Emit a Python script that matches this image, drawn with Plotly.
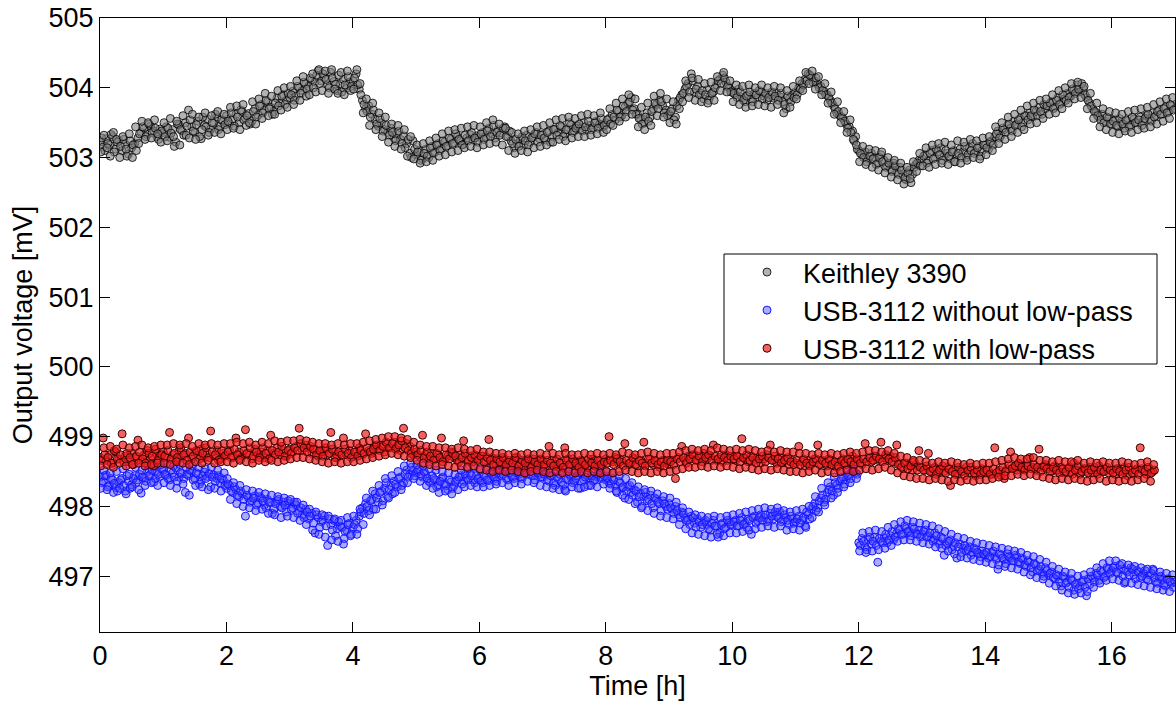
import numpy as np
import plotly.graph_objects as go

DT = 0.05  # sampling interval [h]; "_b" lists are offset by DT/2, "_c" lists by DT/4

keithley = [
    503.22, 503.15, 503.27, 503.18, 503.30, 503.12, 503.24, 503.10, 503.19, 503.05, 503.14, 503.20, 503.28, 503.36, 503.42, 503.33, 503.45, 503.38, 503.30, 503.41,
    503.36, 503.44, 503.29, 503.40, 503.22, 503.47, 503.38, 503.50, 503.68, 503.44, 503.36, 503.52, 503.27, 503.46, 503.55, 503.41, 503.49, 503.58, 503.45, 503.52,
    503.60, 503.48, 503.55, 503.62, 503.50, 503.66, 503.57, 503.63, 503.52, 503.70, 503.61, 503.76, 503.68, 503.80, 503.72, 503.66, 503.85, 503.78, 503.90, 503.82,
    503.86, 503.95, 503.88, 504.00, 503.96, 504.05, 504.02, 504.12, 504.08, 504.24, 504.10, 504.15, 504.04, 504.22, 504.09, 503.96, 504.06, 504.12, 503.99, 504.08,
    504.10, 504.20, 503.98, 503.82, 503.70, 503.74, 503.62, 503.55, 503.45, 503.50, 503.40, 503.36, 503.42, 503.28, 503.33, 503.26, 503.31, 503.20, 503.06, 503.24,
    503.04, 503.10, 502.98, 503.12, 503.00, 503.16, 503.08, 503.20, 503.13, 503.22, 503.17, 503.26, 503.21, 503.30, 503.24, 503.19, 503.28, 503.33, 503.25, 503.31,
    503.29, 503.36, 503.30, 503.42, 503.34, 503.28, 503.40, 503.35, 503.44, 503.30, 503.24, 503.14, 503.20, 503.26, 503.18, 503.32, 503.22, 503.29, 503.36, 503.27,
    503.33, 503.25, 503.38, 503.30, 503.41, 503.36, 503.44, 503.34, 503.40, 503.47, 503.38, 503.45, 503.42, 503.50, 503.39, 503.46, 503.43, 503.52, 503.48, 503.44,
    503.50, 503.56, 503.62, 503.54, 503.66, 503.60, 503.72, 503.78, 503.86, 503.70, 503.62, 503.55, 503.50, 503.64, 503.58, 503.70, 503.76, 503.82, 503.74, 503.68,
    503.62, 503.70, 503.58, 503.82, 503.90, 503.98, 504.06, 504.20, 503.94, 504.02, 503.92, 503.84, 503.97, 503.88, 503.94, 504.04, 504.12, 504.18, 504.08, 504.00,
    503.96, 503.90, 503.98, 503.86, 503.80, 503.90, 503.84, 503.92, 503.86, 503.94, 503.88, 503.82, 503.90, 503.85, 503.93, 503.87, 503.80, 503.70, 503.84, 503.90,
    503.94, 504.00, 504.06, 504.12, 504.20, 504.16, 504.10, 504.05, 504.02, 503.95, 503.90, 503.82, 503.74, 503.64, 503.60, 503.56, 503.48, 503.44, 503.38, 503.30,
    503.10, 503.04, 503.08, 502.98, 503.06, 503.00, 502.92, 503.04, 502.96, 502.88, 502.84, 502.92, 502.80, 502.86, 502.74, 502.68, 502.82, 502.76, 502.90, 502.96,
    502.98, 503.04, 502.95, 503.10, 503.00, 503.08, 503.14, 503.02, 503.06, 502.98, 503.10, 503.04, 503.12, 503.08, 503.00, 503.14, 503.20, 503.08, 503.16, 503.10,
    503.18, 503.12, 503.24, 503.30, 503.38, 503.32, 503.40, 503.46, 503.42, 503.52, 503.48, 503.56, 503.50, 503.60, 503.64, 503.58, 503.66, 503.72, 503.62, 503.70,
    503.74, 503.80, 503.72, 503.86, 503.78, 503.84, 503.92, 503.88, 503.96, 504.04, 503.94, 503.99, 503.86, 503.78, 503.70, 503.64, 503.58, 503.62, 503.52, 503.56,
    503.48, 503.54, 503.45, 503.50, 503.42, 503.52, 503.47, 503.55, 503.50, 503.58, 503.52, 503.60, 503.56, 503.64, 503.60, 503.68, 503.62, 503.72, 503.66, 503.74,
    503.70,
]
keithley_b = [
    503.28, 503.10, 503.20, 503.33, 503.08, 503.22, 503.16, 503.26, 503.02, 503.24, 503.18, 503.10, 503.34, 503.44, 503.30, 503.48, 503.36, 503.42, 503.26, 503.38,
    503.30, 503.42, 503.35, 503.16, 503.48, 503.40, 503.32, 503.45, 503.54, 503.38, 503.47, 503.30, 503.58, 503.44, 503.36, 503.50, 503.62, 503.40, 503.54, 503.47,
    503.52, 503.64, 503.45, 503.58, 503.68, 503.54, 503.60, 503.48, 503.66, 503.58, 503.74, 503.64, 503.82, 503.70, 503.62, 503.78, 503.74, 503.88, 503.76, 503.92,
    503.90, 503.82, 504.02, 503.92, 504.08, 503.98, 504.14, 504.00, 504.18, 504.06, 504.20, 504.12, 504.00, 504.14, 504.05, 504.18, 503.94, 504.04, 504.16, 504.02,
    504.14, 504.04, 503.90, 503.76, 503.66, 503.58, 503.68, 503.48, 503.56, 503.38, 503.46, 503.32, 503.36, 503.24, 503.38, 503.20, 503.14, 503.26, 503.00, 503.12,
    503.08, 502.96, 503.06, 503.02, 503.14, 503.06, 503.18, 503.10, 503.24, 503.16, 503.28, 503.20, 503.34, 503.26, 503.18, 503.32, 503.24, 503.36, 503.28, 503.22,
    503.34, 503.26, 503.38, 503.30, 503.46, 503.36, 503.32, 503.42, 503.30, 503.38, 503.20, 503.26, 503.16, 503.30, 503.24, 503.18, 503.28, 503.34, 503.22, 503.32,
    503.28, 503.36, 503.22, 503.40, 503.32, 503.46, 503.30, 503.40, 503.50, 503.36, 503.42, 503.48, 503.38, 503.44, 503.52, 503.40, 503.50, 503.42, 503.56, 503.46,
    503.54, 503.48, 503.58, 503.68, 503.58, 503.74, 503.66, 503.80, 503.68, 503.62, 503.56, 503.48, 503.58, 503.52, 503.66, 503.78, 503.70, 503.80, 503.64, 503.60,
    503.66, 503.54, 503.74, 503.86, 503.92, 504.02, 503.94, 504.10, 503.98, 503.90, 503.96, 503.90, 503.82, 503.92, 504.00, 504.10, 504.06, 504.14, 504.02, 503.94,
    503.92, 503.86, 503.94, 503.82, 503.88, 503.94, 503.80, 503.90, 503.96, 503.84, 503.92, 503.86, 503.94, 503.88, 503.82, 503.92, 503.76, 503.88, 503.80, 503.86,
    503.90, 503.98, 504.04, 504.10, 504.18, 504.08, 504.14, 504.00, 503.96, 503.90, 503.86, 503.78, 503.70, 503.66, 503.58, 503.52, 503.42, 503.36, 503.24, 503.12,
    503.06, 503.00, 502.94, 503.02, 502.98, 502.90, 503.00, 502.94, 502.86, 502.92, 502.80, 502.88, 502.76, 502.82, 502.70, 502.78, 502.64, 502.86, 502.92, 502.88,
    503.02, 502.92, 503.06, 502.98, 503.12, 503.04, 502.96, 503.10, 503.02, 503.08, 502.94, 503.06, 503.00, 503.16, 503.04, 503.10, 503.06, 503.14, 503.02, 503.18,
    503.14, 503.22, 503.18, 503.34, 503.28, 503.42, 503.36, 503.48, 503.38, 503.46, 503.54, 503.44, 503.60, 503.54, 503.60, 503.68, 503.60, 503.66, 503.76, 503.74,
    503.78, 503.70, 503.82, 503.76, 503.90, 503.82, 503.86, 503.98, 503.92, 503.98, 504.06, 503.90, 503.82, 503.74, 503.66, 503.60, 503.54, 503.50, 503.58, 503.48,
    503.52, 503.46, 503.56, 503.48, 503.54, 503.44, 503.58, 503.50, 503.54, 503.46, 503.56, 503.62, 503.52, 503.58, 503.66, 503.62, 503.70, 503.64, 503.76, 503.68,
]
keithley_c = [
    503.08, 503.32, 503.14, 503.02, 503.36, 503.26, 503.00, 503.30, 503.12, 503.34, 503.00, 503.44, 503.20, 503.52, 503.26, 503.50, 503.28, 503.54, 503.34, 503.22,
    503.50, 503.24, 503.56, 503.30, 503.52, 503.18, 503.60, 503.32, 503.28, 503.62, 503.26, 503.58, 503.40, 503.64, 503.32, 503.60, 503.36, 503.66, 503.34, 503.62,
    503.40, 503.72, 503.42, 503.74, 503.40, 503.76, 503.46, 503.50, 503.80, 503.48, 503.84, 503.56, 503.92, 503.60, 503.88, 503.62, 503.96, 503.68, 504.00, 503.72,
    504.02, 503.76, 504.10, 503.82, 504.16, 503.88, 503.90, 504.20, 503.94, 504.26, 503.96, 504.24, 503.92, 504.26, 503.98, 503.92, 504.22, 503.90, 504.24, 503.96,
    503.98, 504.26, 504.06, 503.64, 503.84, 503.46, 503.78, 503.40, 503.64, 503.30, 503.58, 503.22, 503.48, 503.16, 503.46, 503.12, 503.40, 503.02, 503.30, 502.98,
    503.18, 502.92, 503.20, 502.94, 503.24, 502.96, 503.28, 503.02, 503.34, 503.04, 503.38, 503.08, 503.40, 503.10, 503.42, 503.14, 503.44, 503.16, 503.46, 503.14,
    503.44, 503.18, 503.50, 503.20, 503.54, 503.22, 503.48, 503.18, 503.42, 503.10, 503.36, 503.06, 503.34, 503.10, 503.38, 503.08, 503.40, 503.14, 503.44, 503.16,
    503.46, 503.18, 503.50, 503.22, 503.54, 503.26, 503.56, 503.24, 503.58, 503.28, 503.56, 503.30, 503.60, 503.30, 503.62, 503.32, 503.60, 503.34, 503.64, 503.36,
    503.40, 503.70, 503.46, 503.78, 503.52, 503.84, 503.58, 503.90, 503.62, 503.84, 503.44, 503.72, 503.40, 503.78, 503.46, 503.88, 503.60, 503.92, 503.58, 503.84,
    503.50, 503.80, 503.48, 503.70, 503.80, 504.10, 503.86, 504.14, 503.82, 504.12, 503.80, 504.06, 503.78, 504.08, 503.82, 504.16, 503.96, 504.22, 503.94, 504.10,
    503.80, 504.04, 503.76, 504.02, 503.72, 504.04, 503.74, 504.00, 503.76, 504.04, 503.74, 504.00, 503.72, 504.02, 503.76, 504.00, 503.64, 503.96, 503.72, 504.02,
    503.84, 504.10, 503.96, 504.22, 504.06, 504.24, 503.98, 504.16, 503.90, 504.06, 503.78, 503.94, 503.62, 503.80, 503.50, 503.66, 503.36, 503.54, 503.26, 503.18,
    502.94, 503.16, 502.90, 503.12, 502.86, 503.10, 502.82, 503.08, 502.78, 503.00, 502.72, 502.96, 502.68, 502.92, 502.62, 502.86, 502.70, 502.94, 502.80, 503.06,
    502.88, 503.14, 502.86, 503.18, 502.90, 503.20, 502.92, 503.22, 502.90, 503.18, 502.94, 503.24, 502.92, 503.22, 502.96, 503.26, 503.00, 503.24, 502.98, 503.28,
    503.04, 503.30, 503.10, 503.44, 503.20, 503.50, 503.26, 503.58, 503.30, 503.62, 503.36, 503.68, 503.40, 503.74, 503.48, 503.78, 503.50, 503.82, 503.56, 503.84,
    503.62, 503.90, 503.64, 503.96, 503.70, 504.00, 503.78, 504.06, 503.84, 504.08, 503.86, 504.02, 503.70, 503.92, 503.56, 503.78, 503.44, 503.70, 503.40, 503.66,
    503.36, 503.64, 503.34, 503.62, 503.38, 503.66, 503.36, 503.68, 503.40, 503.70, 503.42, 503.72, 503.44, 503.76, 503.48, 503.80, 503.52, 503.84, 503.56, 503.86,
]

usb_no_lp = [
    498.42, 498.36, 498.45, 498.30, 498.38, 498.27, 498.34, 498.40, 498.22, 498.36, 498.31, 498.44, 498.38, 498.19, 498.41, 498.50, 498.46, 498.35, 498.49, 498.43,
    498.52, 498.45, 498.38, 498.48, 498.55, 498.42, 498.47, 498.20, 498.44, 498.51, 498.40, 498.46, 498.36, 498.49, 498.43, 498.28, 498.45, 498.40, 498.34, 498.38,
    498.26, 498.30, 498.20, 498.24, 498.14, 498.18, 497.86, 498.12, 498.08, 498.15, 498.05, 498.12, 498.02, 498.10, 498.06, 497.96, 498.08, 498.00, 498.06, 497.92,
    498.04, 497.98, 498.02, 497.94, 497.88, 497.96, 497.82, 497.90, 497.62, 497.84, 497.78, 497.86, 497.44, 497.74, 497.80, 497.68, 497.72, 497.46, 497.66, 497.76,
    497.70, 497.80, 497.86, 497.98, 498.04, 497.94, 498.10, 498.18, 498.06, 498.22, 498.26, 498.14, 498.30, 498.36, 498.28, 498.42, 498.34, 498.52, 498.46, 498.50,
    498.48, 498.54, 498.42, 498.46, 498.36, 498.44, 498.38, 498.30, 498.40, 498.33, 498.24, 498.35, 498.30, 498.38, 498.44, 498.36, 498.41, 498.47, 498.38, 498.44,
    498.40, 498.34, 498.42, 498.37, 498.46, 498.40, 498.48, 498.44, 498.50, 498.38, 498.45, 498.40, 498.48, 498.43, 498.52, 498.46, 498.66, 498.44, 498.50, 498.46,
    498.42, 498.48, 498.36, 498.44, 498.30, 498.40, 498.35, 498.24, 498.38, 498.42, 498.36, 498.44, 498.26, 498.38, 498.45, 498.40, 498.36, 498.43, 498.47, 498.41,
    498.38, 498.34, 498.40, 498.30, 498.36, 498.26, 498.12, 498.28, 498.20, 498.24, 498.06, 498.18, 498.14, 498.08, 498.16, 497.98, 498.10, 498.04, 498.08, 498.00,
    498.04, 497.96, 498.00, 497.88, 497.92, 497.84, 497.80, 497.86, 497.76, 497.82, 497.70, 497.78, 497.74, 497.66, 497.80, 497.72, 497.62, 497.76, 497.70, 497.78,
    497.74, 497.80, 497.72, 497.84, 497.76, 497.82, 497.60, 497.86, 497.80, 497.88, 497.84, 497.78, 497.90, 497.82, 497.86, 497.92, 497.80, 497.84, 497.74, 497.82,
    497.78, 497.86, 497.80, 497.72, 497.88, 497.96, 498.04, 497.98, 498.12, 498.06, 498.20, 498.28, 498.16, 498.30, 498.36, 498.42, 498.38, 498.46, 498.52, 498.48,
    497.48, 497.54, 497.42, 497.52, 497.46, 497.56, 497.20, 497.50, 497.55, 497.48, 497.58, 497.52, 497.62, 497.66, 497.60, 497.68, 497.64, 497.70, 497.62, 497.66,
    497.60, 497.66, 497.58, 497.54, 497.62, 497.50, 497.56, 497.30, 497.48, 497.52, 497.44, 497.26, 497.46, 497.40, 497.36, 497.42, 497.34, 497.38, 497.32, 497.36,
    497.30, 497.26, 497.34, 497.28, 497.10, 497.30, 497.24, 497.32, 497.26, 497.22, 497.28, 497.18, 497.24, 497.14, 497.20, 497.06, 497.16, 497.10, 497.04, 497.12,
    497.02, 497.06, 496.96, 497.00, 496.86, 496.98, 496.92, 496.96, 496.80, 496.90, 496.86, 496.94, 496.72, 496.88, 496.98, 497.04, 496.94, 497.06, 497.00, 497.10,
    497.08, 497.14, 497.04, 497.10, 496.90, 497.06, 497.12, 497.02, 497.08, 496.98, 497.04, 496.96, 497.02, 497.10, 496.92, 496.98, 496.94, 496.86, 496.96, 496.90,
    496.92,
]
usb_no_lp_b = [
    498.34, 498.44, 498.28, 498.40, 498.33, 498.22, 498.38, 498.30, 498.44, 498.26, 498.40, 498.34, 498.46, 498.42, 498.36, 498.44, 498.52, 498.40, 498.46, 498.54,
    498.46, 498.40, 498.52, 498.42, 498.36, 498.48, 498.40, 498.46, 498.52, 498.38, 498.48, 498.32, 498.44, 498.40, 498.47, 498.42, 498.36, 498.44, 498.40, 498.30,
    498.32, 498.22, 498.28, 498.16, 498.22, 498.10, 498.16, 498.06, 498.12, 498.02, 498.14, 498.08, 497.98, 498.06, 497.90, 498.04, 498.10, 497.98, 498.02, 498.08,
    497.96, 498.06, 497.90, 497.98, 497.84, 497.92, 497.86, 497.76, 497.88, 497.70, 497.80, 497.72, 497.82, 497.66, 497.58, 497.78, 497.70, 497.64, 497.74, 497.60,
    497.74, 497.68, 497.92, 497.90, 498.00, 498.08, 497.96, 498.12, 498.20, 498.08, 498.34, 498.24, 498.18, 498.32, 498.40, 498.30, 498.46, 498.42, 498.56, 498.44,
    498.52, 498.44, 498.50, 498.40, 498.34, 498.40, 498.28, 498.36, 498.42, 498.30, 498.38, 498.26, 498.36, 498.42, 498.32, 498.46, 498.38, 498.44, 498.34, 498.40,
    498.36, 498.44, 498.38, 498.48, 498.42, 498.36, 498.52, 498.46, 498.40, 498.48, 498.42, 498.54, 498.46, 498.40, 498.48, 498.56, 498.44, 498.38, 498.48, 498.42,
    498.46, 498.38, 498.44, 498.34, 498.42, 498.46, 498.30, 498.40, 498.46, 498.34, 498.40, 498.48, 498.36, 498.42, 498.30, 498.44, 498.38, 498.46, 498.40, 498.44,
    498.40, 498.32, 498.38, 498.20, 498.34, 498.28, 498.22, 498.30, 498.16, 498.22, 498.14, 498.00, 498.20, 498.10, 498.04, 498.12, 498.06, 497.94, 498.04, 497.96,
    497.98, 497.90, 497.94, 497.84, 497.90, 497.80, 497.74, 497.84, 497.70, 497.78, 497.74, 497.80, 497.68, 497.76, 497.72, 497.56, 497.74, 497.68, 497.80, 497.74,
    497.78, 497.72, 497.80, 497.74, 497.70, 497.80, 497.84, 497.76, 497.84, 497.80, 497.88, 497.80, 497.86, 497.92, 497.84, 497.78, 497.88, 497.80, 497.86, 497.76,
    497.82, 497.76, 497.84, 497.92, 497.82, 498.00, 497.94, 498.08, 498.16, 498.10, 498.24, 498.22, 498.34, 498.26, 498.40, 498.32, 498.44, 498.40, 498.50, 498.46,
    497.44, 497.50, 497.38, 497.56, 497.50, 497.44, 497.54, 497.48, 497.60, 497.52, 497.64, 497.56, 497.68, 497.60, 497.72, 497.64, 497.58, 497.68, 497.60, 497.56,
    497.64, 497.56, 497.62, 497.50, 497.58, 497.46, 497.54, 497.44, 497.50, 497.38, 497.48, 497.42, 497.34, 497.44, 497.38, 497.30, 497.40, 497.34, 497.28, 497.32,
    497.34, 497.28, 497.36, 497.24, 497.32, 497.26, 497.18, 497.28, 497.22, 497.30, 497.20, 497.26, 497.16, 497.22, 497.12, 497.18, 497.08, 497.14, 497.00, 497.08,
    497.04, 496.98, 497.02, 496.92, 497.00, 496.90, 496.84, 496.94, 496.88, 496.82, 496.92, 496.84, 496.96, 497.00, 496.92, 497.02, 497.08, 496.98, 497.12, 497.04,
    497.12, 497.06, 497.16, 497.00, 497.08, 497.02, 497.10, 496.96, 497.06, 497.00, 497.08, 496.94, 497.04, 496.98, 496.90, 497.00, 496.88, 496.96, 496.92, 496.84,
]
usb_no_lp_c = [
    498.26, 498.52, 498.24, 498.48, 498.20, 498.50, 498.26, 498.54, 498.18, 498.46, 498.28, 498.56, 498.24, 498.52, 498.30, 498.60, 498.34, 498.58, 498.30, 498.60,
    498.34, 498.62, 498.30, 498.58, 498.26, 498.60, 498.32, 498.56, 498.16, 498.58, 498.30, 498.56, 498.28, 498.54, 498.24, 498.56, 498.26, 498.52, 498.22, 498.48,
    498.40, 498.10, 498.34, 498.04, 498.30, 498.00, 498.24, 497.98, 498.22, 497.94, 498.20, 497.96, 498.18, 497.90, 498.16, 497.88, 498.14, 497.84, 498.12, 497.86,
    498.10, 497.84, 498.06, 497.80, 498.02, 497.74, 497.96, 497.66, 497.92, 497.60, 497.88, 497.56, 497.86, 497.52, 497.82, 497.50, 497.80, 497.54, 497.84, 497.58,
    497.86, 497.60, 497.96, 497.74, 498.12, 497.88, 498.22, 497.96, 498.30, 498.02, 498.40, 498.12, 498.44, 498.20, 498.50, 498.24, 498.58, 498.34, 498.62, 498.40,
    498.60, 498.36, 498.58, 498.30, 498.54, 498.26, 498.52, 498.20, 498.50, 498.22, 498.48, 498.18, 498.46, 498.24, 498.52, 498.28, 498.54, 498.30, 498.56, 498.28,
    498.52, 498.28, 498.56, 498.30, 498.58, 498.32, 498.60, 498.34, 498.62, 498.30, 498.58, 498.34, 498.60, 498.32, 498.62, 498.36, 498.58, 498.34, 498.62, 498.30,
    498.56, 498.28, 498.54, 498.26, 498.52, 498.24, 498.50, 498.22, 498.54, 498.28, 498.52, 498.26, 498.54, 498.28, 498.56, 498.30, 498.54, 498.28, 498.56, 498.32,
    498.50, 498.26, 498.48, 498.22, 498.44, 498.16, 498.40, 498.10, 498.34, 498.04, 498.28, 497.98, 498.24, 497.94, 498.22, 497.90, 498.18, 497.86, 498.14, 497.84,
    498.12, 497.82, 498.06, 497.74, 497.98, 497.68, 497.92, 497.62, 497.88, 497.60, 497.86, 497.58, 497.84, 497.56, 497.86, 497.60, 497.84, 497.58, 497.86, 497.62,
    497.88, 497.62, 497.90, 497.64, 497.92, 497.66, 497.94, 497.68, 497.96, 497.70, 497.98, 497.72, 497.96, 497.70, 497.98, 497.72, 497.94, 497.66, 497.92, 497.68,
    497.94, 497.66, 497.96, 497.70, 498.00, 497.84, 498.14, 497.92, 498.26, 498.02, 498.34, 498.12, 498.42, 498.20, 498.50, 498.28, 498.54, 498.34, 498.60, 498.40,
    497.36, 497.62, 497.34, 497.64, 497.36, 497.66, 497.38, 497.64, 497.40, 497.70, 497.44, 497.74, 497.50, 497.78, 497.52, 497.80, 497.52, 497.78, 497.50, 497.76,
    497.48, 497.74, 497.46, 497.72, 497.42, 497.68, 497.40, 497.64, 497.36, 497.60, 497.32, 497.56, 497.28, 497.54, 497.26, 497.50, 497.24, 497.48, 497.22, 497.46,
    497.20, 497.44, 497.18, 497.42, 497.16, 497.40, 497.14, 497.38, 497.12, 497.36, 497.10, 497.34, 497.06, 497.30, 497.02, 497.28, 496.98, 497.24, 496.96, 497.20,
    496.90, 497.14, 496.86, 497.10, 496.80, 497.06, 496.76, 497.04, 496.74, 497.00, 496.76, 497.02, 496.78, 497.06, 496.84, 497.12, 496.90, 497.18, 496.94, 497.22,
    496.96, 497.22, 496.94, 497.18, 496.92, 497.16, 496.90, 497.14, 496.88, 497.12, 496.86, 497.10, 496.84, 497.08, 496.82, 497.06, 496.80, 497.04, 496.78, 497.02,
]

usb_lp = [
    498.70, 498.98, 498.66, 498.74, 498.62, 498.78, 498.68, 499.04, 498.72, 498.64, 498.76, 498.70, 498.95, 498.66, 498.74, 498.80, 498.69, 498.58, 498.76, 498.72,
    498.78, 498.70, 499.06, 498.74, 498.66, 498.80, 498.72, 498.76, 498.98, 498.68, 498.78, 498.74, 498.82, 498.70, 498.76, 499.08, 498.72, 498.80, 498.68, 498.76,
    498.74, 498.80, 498.70, 498.98, 498.78, 498.72, 499.10, 498.76, 498.68, 498.82, 498.74, 498.78, 498.70, 498.80, 499.02, 498.76, 498.84, 498.74, 498.80, 498.72,
    498.82, 498.78, 498.86, 499.12, 498.80, 498.88, 498.84, 498.76, 498.82, 498.72, 498.78, 498.80, 498.74, 499.06, 498.78, 498.70, 498.76, 498.98, 498.74, 498.80,
    498.72, 498.78, 498.84, 498.74, 499.04, 498.80, 498.76, 498.86, 498.82, 498.88, 498.78, 498.90, 498.84, 498.92, 498.86, 498.80, 499.12, 498.90, 498.86, 498.74,
    498.78, 498.72, 499.02, 498.74, 498.68, 498.76, 498.70, 498.74, 498.98, 498.68, 498.72, 498.78, 498.70, 498.66, 498.74, 498.94, 498.68, 498.72, 498.64, 498.70,
    498.68, 498.72, 498.64, 498.96, 498.70, 498.62, 498.66, 498.60, 498.68, 498.64, 498.58, 498.66, 498.70, 498.62, 498.56, 498.64, 498.60, 498.68, 498.62, 498.66,
    498.64, 498.58, 498.86, 498.66, 498.60, 498.56, 498.62, 498.84, 498.68, 498.60, 498.64, 498.58, 498.66, 498.62, 498.56, 498.64, 498.68, 498.60, 498.66, 498.62,
    498.68, 499.00, 498.64, 498.70, 498.62, 498.66, 498.90, 498.60, 498.64, 498.68, 498.58, 498.66, 498.92, 498.62, 498.68, 498.60, 498.64, 498.56, 498.66, 498.62,
    498.60, 498.66, 498.40, 498.70, 498.86, 498.66, 498.72, 498.68, 498.74, 498.66, 498.70, 498.76, 498.68, 498.72, 498.88, 498.66, 498.70, 498.64, 498.74, 498.68,
    498.72, 498.66, 498.70, 498.97, 498.68, 498.64, 498.72, 498.66, 498.70, 498.62, 498.68, 498.74, 498.88, 498.66, 498.62, 498.70, 498.64, 498.68, 498.60, 498.66,
    498.62, 498.86, 498.64, 498.58, 498.66, 498.62, 498.68, 498.88, 498.60, 498.64, 498.58, 498.66, 498.62, 498.56, 498.64, 498.68, 498.60, 498.66, 498.72, 498.64,
    498.66, 498.60, 498.90, 498.68, 498.64, 498.72, 498.66, 498.92, 498.70, 498.66, 498.72, 498.64, 498.88, 498.60, 498.54, 498.62, 498.58, 498.52, 498.60, 498.80,
    498.56, 498.52, 498.76, 498.50, 498.56, 498.48, 498.54, 498.50, 498.56, 498.30, 498.52, 498.46, 498.54, 498.50, 498.56, 498.48, 498.52, 498.44, 498.50, 498.54,
    498.48, 498.52, 498.46, 498.84, 498.50, 498.44, 498.40, 498.54, 498.78, 498.56, 498.52, 498.60, 498.54, 498.58, 498.70, 498.56, 498.52, 498.82, 498.56, 498.60,
    498.54, 498.50, 498.58, 498.52, 498.56, 498.48, 498.54, 498.50, 498.62, 498.52, 498.46, 498.54, 498.50, 498.56, 498.48, 498.52, 498.58, 498.50, 498.54, 498.48,
    498.52, 498.46, 498.54, 498.50, 498.56, 498.44, 498.52, 498.48, 498.54, 498.84, 498.50, 498.46, 498.54, 498.50,
]
usb_lp_b = [
    498.66, 498.74, 498.70, 498.62, 498.80, 498.68, 498.74, 498.64, 498.76, 498.70, 498.60, 498.72, 498.78, 498.68, 498.62, 498.76, 498.72, 498.82, 498.66, 498.74,
    498.72, 498.80, 498.68, 498.76, 498.70, 498.84, 498.74, 498.66, 498.78, 498.72, 498.80, 498.68, 498.76, 498.84, 498.70, 498.78, 498.74, 498.66, 498.80, 498.72,
    498.78, 498.70, 498.82, 498.74, 498.68, 498.80, 498.76, 498.84, 498.72, 498.78, 498.70, 498.84, 498.76, 498.68, 498.80, 498.74, 498.78, 498.86, 498.72, 498.80,
    498.76, 498.84, 498.80, 498.90, 498.84, 498.78, 498.86, 498.82, 498.74, 498.80, 498.72, 498.84, 498.76, 498.82, 498.70, 498.78, 498.74, 498.82, 498.76, 498.70,
    498.78, 498.72, 498.80, 498.76, 498.84, 498.78, 498.82, 498.88, 498.80, 498.86, 498.92, 498.84, 498.90, 498.82, 498.88, 498.94, 498.84, 498.80, 498.76, 498.82,
    498.74, 498.80, 498.70, 498.78, 498.72, 498.66, 498.76, 498.70, 498.64, 498.74, 498.68, 498.76, 498.72, 498.64, 498.70, 498.76, 498.66, 498.70, 498.74, 498.66,
    498.72, 498.64, 498.70, 498.66, 498.60, 498.68, 498.64, 498.70, 498.60, 498.66, 498.62, 498.70, 498.58, 498.66, 498.62, 498.68, 498.56, 498.64, 498.60, 498.68,
    498.60, 498.66, 498.62, 498.58, 498.68, 498.62, 498.56, 498.66, 498.60, 498.68, 498.62, 498.56, 498.64, 498.60, 498.68, 498.62, 498.58, 498.66, 498.60, 498.64,
    498.62, 498.66, 498.60, 498.68, 498.64, 498.58, 498.66, 498.62, 498.70, 498.60, 498.66, 498.62, 498.58, 498.68, 498.62, 498.66, 498.60, 498.64, 498.58, 498.66,
    498.64, 498.60, 498.68, 498.64, 498.70, 498.62, 498.68, 498.74, 498.66, 498.72, 498.64, 498.70, 498.74, 498.66, 498.72, 498.68, 498.74, 498.70, 498.66, 498.72,
    498.68, 498.72, 498.64, 498.70, 498.74, 498.66, 498.70, 498.62, 498.68, 498.72, 498.64, 498.70, 498.66, 498.72, 498.68, 498.62, 498.66, 498.70, 498.64, 498.60,
    498.66, 498.60, 498.68, 498.62, 498.58, 498.64, 498.68, 498.60, 498.66, 498.62, 498.68, 498.60, 498.64, 498.58, 498.66, 498.62, 498.68, 498.64, 498.60, 498.68,
    498.62, 498.68, 498.64, 498.70, 498.66, 498.72, 498.68, 498.64, 498.74, 498.68, 498.64, 498.70, 498.60, 498.56, 498.62, 498.54, 498.58, 498.64, 498.52, 498.56,
    498.52, 498.58, 498.50, 498.54, 498.46, 498.52, 498.58, 498.48, 498.54, 498.50, 498.46, 498.56, 498.50, 498.44, 498.52, 498.56, 498.48, 498.52, 498.46, 498.50,
    498.52, 498.46, 498.54, 498.48, 498.52, 498.56, 498.50, 498.60, 498.54, 498.58, 498.62, 498.56, 498.52, 498.58, 498.54, 498.60, 498.56, 498.50, 498.58, 498.54,
    498.50, 498.56, 498.52, 498.48, 498.54, 498.50, 498.56, 498.46, 498.52, 498.58, 498.50, 498.54, 498.48, 498.52, 498.56, 498.46, 498.52, 498.50, 498.56, 498.52,
    498.48, 498.54, 498.50, 498.46, 498.52, 498.56, 498.48, 498.52, 498.46, 498.54, 498.50, 498.56, 498.48, 498.52,
]
usb_lp_c = [
    498.58, 498.84, 498.60, 498.86, 498.56, 498.82, 498.62, 498.88, 498.58, 498.84, 498.60, 498.86, 498.62, 498.88, 498.58, 498.84, 498.60, 498.86, 498.62, 498.88,
    498.62, 498.88, 498.60, 498.90, 498.64, 498.88, 498.62, 498.90, 498.60, 498.86, 498.64, 498.90, 498.62, 498.88, 498.66, 498.90, 498.62, 498.88, 498.64, 498.90,
    498.64, 498.90, 498.62, 498.92, 498.66, 498.90, 498.64, 498.92, 498.62, 498.88, 498.66, 498.92, 498.64, 498.90, 498.66, 498.94, 498.64, 498.92, 498.66, 498.94,
    498.68, 498.94, 498.70, 498.96, 498.70, 498.94, 498.68, 498.92, 498.66, 498.90, 498.64, 498.90, 498.62, 498.88, 498.64, 498.90, 498.62, 498.88, 498.64, 498.90,
    498.64, 498.90, 498.66, 498.92, 498.68, 498.94, 498.70, 498.96, 498.72, 498.98, 498.74, 499.00, 498.76, 499.00, 498.74, 498.98, 498.72, 498.96, 498.70, 498.92,
    498.66, 498.88, 498.62, 498.86, 498.60, 498.86, 498.58, 498.84, 498.60, 498.84, 498.58, 498.82, 498.56, 498.84, 498.58, 498.82, 498.56, 498.80, 498.58, 498.82,
    498.54, 498.78, 498.52, 498.78, 498.50, 498.76, 498.52, 498.76, 498.50, 498.74, 498.52, 498.76, 498.50, 498.74, 498.48, 498.76, 498.50, 498.74, 498.52, 498.76,
    498.50, 498.74, 498.48, 498.76, 498.50, 498.74, 498.48, 498.76, 498.50, 498.74, 498.48, 498.74, 498.50, 498.76, 498.48, 498.74, 498.50, 498.76, 498.48, 498.74,
    498.50, 498.76, 498.48, 498.74, 498.50, 498.78, 498.52, 498.76, 498.50, 498.74, 498.48, 498.76, 498.50, 498.78, 498.48, 498.76, 498.50, 498.74, 498.48, 498.76,
    498.50, 498.76, 498.52, 498.78, 498.54, 498.80, 498.56, 498.82, 498.56, 498.80, 498.58, 498.82, 498.56, 498.80, 498.58, 498.84, 498.56, 498.82, 498.58, 498.80,
    498.56, 498.82, 498.54, 498.80, 498.56, 498.82, 498.54, 498.80, 498.52, 498.78, 498.54, 498.80, 498.52, 498.78, 498.54, 498.80, 498.52, 498.78, 498.50, 498.78,
    498.50, 498.76, 498.48, 498.76, 498.50, 498.74, 498.52, 498.76, 498.48, 498.74, 498.50, 498.76, 498.48, 498.74, 498.50, 498.76, 498.52, 498.78, 498.50, 498.76,
    498.52, 498.78, 498.54, 498.80, 498.52, 498.80, 498.54, 498.78, 498.56, 498.80, 498.52, 498.76, 498.48, 498.72, 498.44, 498.70, 498.42, 498.66, 498.40, 498.66,
    498.40, 498.64, 498.38, 498.62, 498.40, 498.64, 498.38, 498.62, 498.36, 498.64, 498.38, 498.62, 498.36, 498.60, 498.38, 498.62, 498.36, 498.60, 498.38, 498.62,
    498.38, 498.62, 498.40, 498.64, 498.42, 498.66, 498.44, 498.68, 498.44, 498.70, 498.46, 498.68, 498.44, 498.68, 498.46, 498.70, 498.44, 498.66, 498.42, 498.66,
    498.40, 498.64, 498.38, 498.66, 498.40, 498.64, 498.38, 498.64, 498.40, 498.66, 498.38, 498.62, 498.36, 498.64, 498.38, 498.62, 498.40, 498.64, 498.36, 498.62,
    498.38, 498.62, 498.36, 498.64, 498.38, 498.62, 498.36, 498.60, 498.38, 498.62, 498.40, 498.64, 498.36, 498.60,
]

series_names = ["Keithley 3390", "USB-3112 without low-pass", "USB-3112 with low-pass"]
x_ticks = [0, 2, 4, 6, 8, 10, 12, 14, 16]
y_ticks = [497, 498, 499, 500, 501, 502, 503, 504, 505]


def times(vals, offset=0.0):
    return np.round(np.arange(len(vals)) * DT + offset, 4)


def merged(a, b, c):
    x = np.concatenate([times(a), times(b, DT / 2), times(c, DT / 4)])
    y = np.concatenate([a, b, c])
    return x, y


FONT = "Liberation Sans, Arial, sans-serif"
styles = [
    dict(size=8, color="rgba(128,128,128,0.6)", line=dict(color="rgba(0,0,0,0.8)", width=1)),
    dict(size=8, color="rgba(70,70,255,0.45)", line=dict(color="rgb(20,20,255)", width=1)),
    dict(size=8, color="rgba(240,30,30,0.7)", line=dict(color="rgb(60,0,0)", width=1)),
]

fig = go.Figure()
for name, sets, st in zip(series_names,
                          [(keithley, keithley_b, keithley_c),
                           (usb_no_lp, usb_no_lp_b, usb_no_lp_c),
                           (usb_lp, usb_lp_b, usb_lp_c)],
                          styles):
    x, y = merged(*sets)
    fig.add_trace(go.Scatter(x=x, y=y, mode="markers", name=name, marker=st))

# legend box (paper coords of plot area)
L, R, T, B = 100, 1175, 18, 632


def px(x):
    return (x - L) / (R - L)


def py(y):
    return (B - y) / (B - T)


fig.add_shape(type="rect", xref="paper", yref="paper",
              x0=px(724), x1=px(1157), y0=py(364), y1=py(254),
              line=dict(color="black", width=1), fillcolor="white", layer="above")

fig.update_layout(
    width=1176, height=702,
    margin=dict(l=100, r=1, t=18, b=70),
    paper_bgcolor="white", plot_bgcolor="white",
    font=dict(family=FONT, size=27, color="black"),
    showlegend=True,
    legend=dict(x=px(731), y=py(248), xanchor="left", yanchor="top",
                bgcolor="rgba(0,0,0,0)", borderwidth=0, itemwidth=62,
                font=dict(size=27, family=FONT), tracegroupgap=0),
    xaxis=dict(range=[0, 17], tickvals=x_ticks, ticks="inside", ticklen=10,
               tickcolor="black", showline=True, linecolor="black", linewidth=1,
               mirror="ticks", showgrid=False, zeroline=False,
               title=dict(text="Time [h]", font=dict(size=27), standoff=2),
               tickfont=dict(size=27)),
    yaxis=dict(range=[496.2, 505], tickvals=y_ticks, ticks="inside", ticklen=10,
               tickcolor="black", showline=True, linecolor="black", linewidth=1,
               mirror="ticks", showgrid=False, zeroline=False,
               title=dict(text="Output voltage [mV]", font=dict(size=27), standoff=8),
               tickfont=dict(size=27)),
)

fig.write_html("out.html")
